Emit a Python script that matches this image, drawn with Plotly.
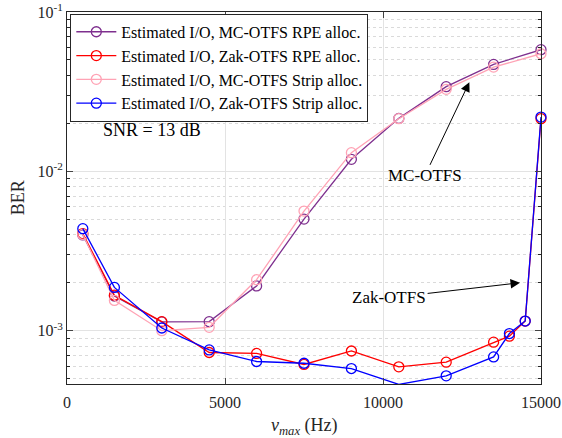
import math
import plotly.graph_objects as go

# ---- data ----
x_mc = [500, 1500, 3000, 4500, 6000, 7500, 9000, 10500, 12000, 13500, 15000]
ber_mc_rpe = [3.99e-3, 1.65e-3, 1.135e-3, 1.14e-3, 1.91e-3, 5.02e-3, 1.19e-2, 2.15e-2, 3.4e-2, 4.69e-2, 5.8e-2]
ber_mc_strip = [4.02e-3, 1.55e-3, 1.0e-3, 1.05e-3, 2.09e-3, 5.63e-3, 1.31e-2, 2.14e-2, 3.27e-2, 4.51e-2, 5.47e-2]

x_zak = [500, 1500, 3000, 4500, 6000, 7500, 9000, 10500, 12000, 13500, 14000, 14500, 15000]
ber_zak_rpe = [4.07e-3, 1.67e-3, 1.14e-3, 7.3e-4, 7.2e-4, 6.14e-4, 7.46e-4, 5.93e-4, 6.35e-4, 8.47e-4, 9.24e-4, 1.15e-3, 2.14e-2]
ber_zak_strip = [4.37e-3, 1.87e-3, 1.04e-3, 7.58e-4, 6.41e-4, 6.25e-4, 5.79e-4, 4.6e-4, 5.21e-4, 6.85e-4, 9.6e-4, 1.15e-3, 2.19e-2]

names = [
    "Estimated I/O, MC-OTFS RPE alloc.",
    "Estimated I/O, Zak-OTFS RPE alloc.",
    "Estimated I/O, MC-OTFS Strip alloc.",
    "Estimated I/O, Zak-OTFS Strip alloc.",
]
colors = ["#7E2F8E", "#FF0000", "#FFA3B5", "#0000FF"]

x_ticks = [0, 5000, 10000, 15000]
x_ticktext = ["0", "5000", "10000", "15000"]
y_ticks = [1e-3, 1e-2, 1e-1]
y_ticktext = ["10<sup>-3</sup>", "10<sup>-2</sup>", "10<sup>-1</sup>"]
y_minor = [m * 10.0 ** e for e in (-4, -3, -2) for m in range(2, 10) if m * 10.0 ** e > 4.6e-4]

FONT = "Liberation Serif"
AXC = "#262626"

fig = go.Figure()
series = [(x_mc, ber_mc_rpe), (x_zak, ber_zak_rpe), (x_mc, ber_mc_strip), (x_zak, ber_zak_strip)]
for (xs, ys), nm, c in zip(series, names, colors):
    fig.add_trace(go.Scatter(
        x=xs, y=ys, name=nm, mode="lines+markers",
        line=dict(color=c, width=1.3),
        marker=dict(symbol="circle-open", size=10, color=c, line=dict(width=1.3, color=c)),
        cliponaxis=False,
    ))

fig.update_layout(
    width=562, height=438,
    margin=dict(l=67, r=21, t=11.5, b=54),
    paper_bgcolor="white", plot_bgcolor="white",
    font=dict(family=FONT, size=16, color="#262626"),
    showlegend=True,
    legend=dict(
        x=0.007, y=0.995, xanchor="left", yanchor="top",
        bgcolor="white", bordercolor=AXC, borderwidth=1,
        font=dict(family=FONT, size=16, color="black"),
        tracegroupgap=0, itemwidth=40,
    ),
    xaxis=dict(
        range=[0, 15000], tickvals=x_ticks, ticktext=x_ticktext, ticks="inside", ticklen=6,
        showline=True, linecolor=AXC, linewidth=1, mirror="allticks",
        showgrid=True, gridcolor="#E3E3E3", gridwidth=1, zeroline=False, automargin=False,
        tickfont=dict(family=FONT, size=16, color=AXC), ticklabelstandoff=4,
    ),
    yaxis=dict(
        type="log", range=[math.log10(4.63e-4), -1],
        tickvals=y_ticks, ticktext=y_ticktext, ticks="inside", ticklen=6,
        showline=True, linecolor=AXC, linewidth=1, mirror="allticks",
        showgrid=True, gridcolor="#E3E3E3", gridwidth=1, zeroline=False, automargin=False,
        tickfont=dict(family=FONT, size=16, color=AXC),
        minor=dict(tickvals=y_minor, ticks="inside", ticklen=3, tickcolor=AXC,
                   showgrid=True, gridcolor="#DADADA", griddash="dot", gridwidth=1),
    ),
)

# axis titles
fig.add_annotation(xref="paper", yref="paper", x=0.5, y=-0.115, xanchor="center", yanchor="middle",
                   text="<i>ν</i><sub><i>max</i></sub> (Hz)", showarrow=False,
                   font=dict(family=FONT, size=18, color=AXC))
fig.add_annotation(xref="paper", yref="paper", x=-0.103, y=0.5, xanchor="center", yanchor="middle",
                   text="BER", textangle=-90, showarrow=False,
                   font=dict(family=FONT, size=18, color=AXC))

# SNR text
fig.add_annotation(xref="x", yref="y", x=1060, y=math.log10(1.81e-2), xanchor="left", yanchor="middle",
                   text="SNR = 13 dB", showarrow=False,
                   font=dict(family=FONT, size=18, color="black"))

# arrows with labels
fig.add_annotation(xref="x", yref="y", axref="x", ayref="y",
                   x=12733, y=math.log10(3.63e-2), ax=11322, ay=math.log10(9.37e-3),
                   text="MC-OTFS", showarrow=True, arrowhead=2, arrowsize=1.9, arrowwidth=1,
                   arrowcolor="black", font=dict(family=FONT, size=17, color="black"))
fig.add_annotation(xref="x", yref="y", axref="x", ayref="y",
                   x=14336, y=math.log10(2.0e-3), ax=10193, ay=math.log10(1.607e-3),
                   text="Zak-OTFS", showarrow=True, arrowhead=2, arrowsize=1.9, arrowwidth=1,
                   arrowcolor="black", font=dict(family=FONT, size=17, color="black"))

fig.write_html("out.html")
